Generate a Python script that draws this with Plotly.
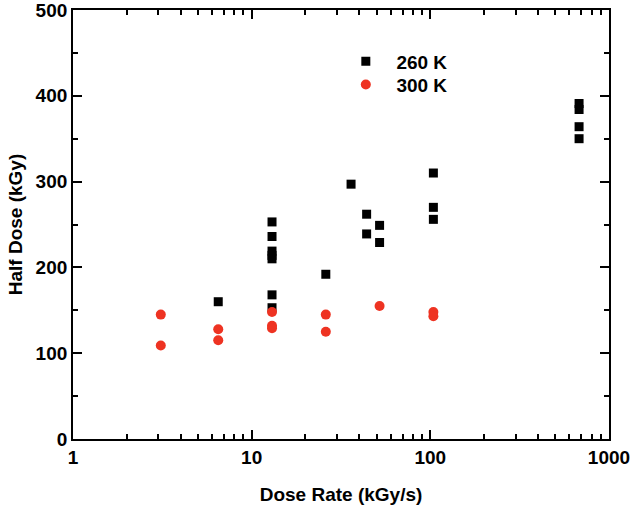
import plotly.graph_objects as go

# 260 K data (black squares)
rate_260 = [6.5, 13, 13, 13, 13, 13, 13, 13, 26, 36, 44, 44, 52, 52, 104, 104, 104, 680, 680, 680, 680]
dose_260 = [160, 253, 236, 219, 214, 210, 168, 153, 192, 297, 262, 239, 249, 229, 310, 270, 256, 391, 384, 364, 350]

# 300 K data (red circles)
rate_300 = [3.1, 3.1, 6.5, 6.5, 13, 13, 13, 26, 26, 52, 104, 104]
dose_300 = [145, 109, 128, 115, 148, 132, 129, 145, 125, 155, 148, 143]

font_family = "Liberation Sans, Arial, sans-serif"
NB = "\u00a0\u00a0"

fig = go.Figure()
fig.add_trace(go.Scatter(
    x=rate_260, y=dose_260, mode="markers", name=NB + "260 K", legend="legend",
    marker=dict(symbol="square", size=9, color="#000000"),
))
fig.add_trace(go.Scatter(
    x=rate_300, y=dose_300, mode="markers", name=NB + "300 K", legend="legend2",
    marker=dict(symbol="circle", size=10, color="#EE3322"),
))

leg_common = dict(
    xanchor="left", yanchor="middle",
    bgcolor="rgba(0,0,0,0)", borderwidth=0,
    font=dict(size=19, family=font_family, color="black", weight="bold"),
)

fig.update_layout(
    width=630, height=505,
    margin=dict(l=73, r=21, t=10, b=66),
    paper_bgcolor="white", plot_bgcolor="white",
    font=dict(family=font_family, color="black", size=19),
    showlegend=True,
    legend=dict(x=0.509, y=0.88, **leg_common),
    legend2=dict(x=0.509, y=0.826, **leg_common),
    xaxis=dict(
        type="log", range=[0, 3], automargin=False, ticklabeloverflow="allow",
        showline=True, linecolor="black", linewidth=1.8, mirror="ticks",
        ticks="inside", ticklen=9, tickwidth=1.5, tickcolor="black",
        tickvals=[1, 10, 100, 1000], ticktext=["1", "10", "100", "1000"],
        showgrid=False, zeroline=False,
        tickfont=dict(size=19, family=font_family, weight="bold"),
        minor=dict(ticks="inside", ticklen=5, tickwidth=1.5, tickcolor="black",
                   tickvals=[m * d for d in (1, 10, 100) for m in range(2, 10)],
                   showgrid=False),
        title=dict(text="Dose Rate (kGy/s)", font=dict(size=19, family=font_family, weight="bold"), standoff=23),
    ),
    yaxis=dict(
        range=[0, 500], automargin=False, ticklabeloverflow="allow",
        showline=True, linecolor="black", linewidth=1.8, mirror="ticks",
        ticks="inside", ticklen=9, tickwidth=1.5, tickcolor="black",
        dtick=100, showgrid=False, zeroline=False,
        tickfont=dict(size=19, family=font_family, weight="bold"),
        minor=dict(ticks="inside", ticklen=5, tickwidth=1.5, tickcolor="black", dtick=50, showgrid=False),
        title=dict(text="Half Dose (kGy)", font=dict(size=19, family=font_family, weight="bold"), standoff=8),
    ),
)

fig.write_html(
    "out.html",
    config={"displayModeBar": False},
    post_script="document.body.style.margin='0';document.body.style.overflow='hidden';",
)
